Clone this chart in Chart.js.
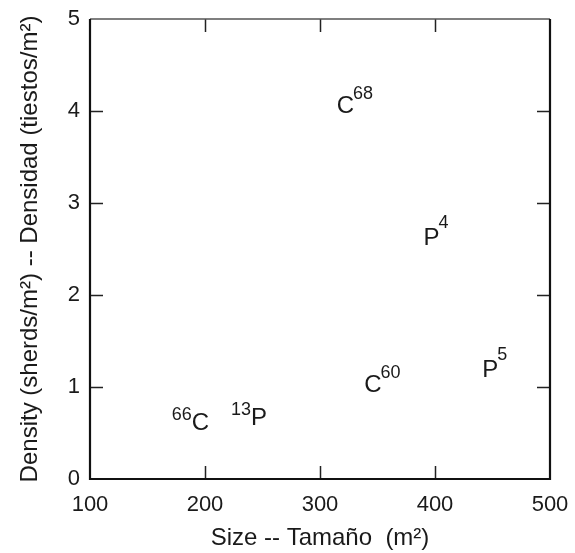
<!DOCTYPE html>
<html>
<head>
<meta charset="utf-8">
<script src="https://cdn.jsdelivr.net/npm/chart.js@4/dist/chart.umd.min.js"></script>
<style>
  html, body { margin: 0; padding: 0; background: #fff; }
  #wrap { width: 575px; height: 553px; }
</style>
</head>
<body>
<div id="wrap"><canvas id="myChart"></canvas></div>
<script>
// sites: letter, number, whether number goes before the letter
var siteLetters = ['C', 'P', 'P', 'C', 'P', 'C'];
var siteNumbers = ['68', '4', '5', '60', '13', '66'];
var numberBefore = [false, false, false, false, true, true];
var sizes = [322, 397, 448, 346, 247, 196];       // m2
var densities = [4.05, 2.62, 1.18, 1.02, 0.66, 0.61]; // sherds/m2

var xTicks = [200, 300, 400];
var yTicks = [1, 2, 3, 4];

var points = [];
for (var i = 0; i < sizes.length; i++) {
    points.push({ x: sizes[i], y: densities[i] });
}

var FONT = '"Liberation Sans", Arial, Helvetica, sans-serif';

// draws the site names (letter + superscript number) at each point
var siteLabels = {
    id: 'siteLabels',
    afterDatasetsDraw: function(chart) {
        var ctx = chart.ctx;
        var xs = chart.scales.x, ys = chart.scales.y;
        ctx.save();
        ctx.fillStyle = '#1a1a1a';
        ctx.textBaseline = 'middle';
        for (var i = 0; i < points.length; i++) {
            var px = xs.getPixelForValue(points[i].x);
            var py = ys.getPixelForValue(points[i].y);
            ctx.font = '24px ' + FONT;
            ctx.textAlign = 'center';
            ctx.fillText(siteLetters[i], px, py);
            var half = ctx.measureText(siteLetters[i]).width / 2;
            ctx.font = '18px ' + FONT;
            if (numberBefore[i]) {
                ctx.textAlign = 'right';
                ctx.fillText(siteNumbers[i], px - half, py - 8);
            } else {
                ctx.textAlign = 'left';
                var up = siteLetters[i] === 'P' ? 15 : 12;
                ctx.fillText(siteNumbers[i], px + half - 1, py - up);
            }
        }
        ctx.restore();
    }
};

// inward ticks on all four sides + frame
var inwardTicks = {
    id: 'inwardTicks',
    afterDraw: function(chart) {
        var ctx = chart.ctx, a = chart.chartArea;
        var xs = chart.scales.x, ys = chart.scales.y;
        var len = 13;
        ctx.save();
        ctx.strokeStyle = '#222';
        ctx.lineWidth = 1.5;
        ctx.beginPath();
        xTicks.forEach(function(v) {
            var p = Math.round(xs.getPixelForValue(v)) + 0.5;
            ctx.moveTo(p, a.bottom); ctx.lineTo(p, a.bottom - len);
            ctx.moveTo(p, a.top); ctx.lineTo(p, a.top + len);
        });
        yTicks.forEach(function(v) {
            var p = Math.round(ys.getPixelForValue(v)) + 0.5;
            ctx.moveTo(a.left, p); ctx.lineTo(a.left + len, p);
            ctx.moveTo(a.right, p); ctx.lineTo(a.right - len, p);
        });
        ctx.stroke();
        // top edge is lighter in the original
        ctx.strokeStyle = '#555';
        ctx.lineWidth = 1.5;
        ctx.beginPath();
        ctx.moveTo(a.left, a.top); ctx.lineTo(a.right, a.top);
        ctx.stroke();
        ctx.strokeStyle = '#111';
        ctx.lineWidth = 2.2;
        ctx.beginPath();
        ctx.moveTo(a.left, a.top); ctx.lineTo(a.left, a.bottom);
        ctx.lineTo(a.right, a.bottom); ctx.lineTo(a.right, a.top);
        ctx.stroke();
        ctx.restore();
    }
};

new Chart(document.getElementById('myChart'), {
    type: 'scatter',
    data: {
        datasets: [{
            data: points,
            pointRadius: 0,
            pointHoverRadius: 0
        }]
    },
    options: {
        responsive: true,
        maintainAspectRatio: false,
        animation: false,
        layout: { padding: { top: 19, right: 25, left: 0, bottom: 0 } },
        plugins: {
            legend: { display: false },
            tooltip: { enabled: false }
        },
        scales: {
            x: {
                type: 'linear',
                min: 100,
                max: 500,
                afterFit: function(s) { s.height = 74; s.paddingLeft = 0; s.paddingRight = 0; },
                afterBuildTicks: function(s) {
                    s.ticks = [100, 200, 300, 400, 500].map(function(v) { return { value: v }; });
                },
                grid: { display: false, drawTicks: false },
                border: { display: false },
                ticks: {
                    color: '#1a1a1a',
                    padding: 13,
                    maxRotation: 0,
                    font: { family: FONT, size: 22 }
                },
                title: {
                    display: true,
                    text: 'Size -- Tamaño  (m²)',
                    color: '#1a1a1a',
                    padding: { top: 3, bottom: 0 },
                    font: { family: FONT, size: 24 }
                }
            },
            y: {
                type: 'linear',
                min: 0,
                max: 5,
                afterFit: function(s) { s.width = 90; s.paddingTop = 0; s.paddingBottom = 0; },
                afterBuildTicks: function(s) {
                    s.ticks = [0, 1, 2, 3, 4, 5].map(function(v) { return { value: v }; });
                },
                grid: { display: false, drawTicks: false },
                border: { display: false },
                ticks: {
                    color: '#1a1a1a',
                    padding: 10,
                    font: { family: FONT, size: 22 }
                },
                title: {
                    display: true,
                    text: 'Density (sherds/m²) -- Densidad (tiestos/m²)',
                    color: '#1a1a1a',
                    padding: { top: 16, bottom: 0 },
                    font: { family: FONT, size: 24 }
                }
            }
        }
    },
    plugins: [siteLabels, inwardTicks]
});
</script>
</body>
</html>
